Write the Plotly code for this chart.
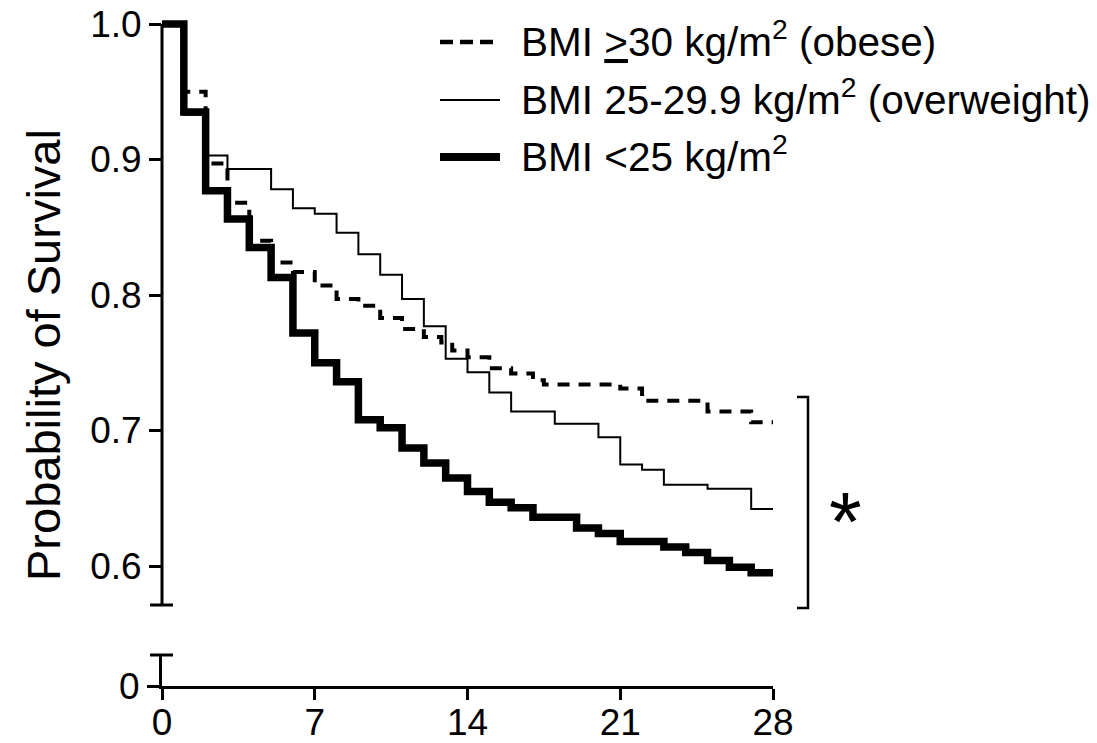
import plotly.graph_objects as go

# ---------------- data ----------------
days_lt25 = [0, 1, 2, 3, 4, 5, 6, 7, 8, 9, 10, 11, 12, 13, 14, 15, 16, 17, 19, 20, 21, 23, 24, 25, 26, 27, 28]
surv_lt25 = [1.0, 0.935, 0.877, 0.856, 0.835, 0.813, 0.772, 0.750, 0.736, 0.708, 0.702, 0.687, 0.676,
             0.665, 0.655, 0.647, 0.643, 0.636, 0.628, 0.624, 0.618, 0.614, 0.610, 0.604, 0.599, 0.595, 0.595]

days_ow = [0, 1, 2, 3, 5, 6, 7, 8, 9, 10, 11, 12, 13, 14, 15, 16, 18, 20, 21, 22, 23, 25, 27, 28]
surv_ow = [1.0, 0.933, 0.903, 0.893, 0.878, 0.864, 0.860, 0.846, 0.830, 0.815, 0.797, 0.777, 0.753,
           0.743, 0.728, 0.714, 0.705, 0.695, 0.675, 0.671, 0.660, 0.657, 0.642, 0.642]

days_ob = [0, 1, 2, 3, 4, 5, 6, 7, 8, 9, 10, 11, 12, 12.8, 13.3, 14, 15, 16, 17, 17.5, 21, 22, 25, 27, 28]
surv_ob = [1.0, 0.950, 0.897, 0.868, 0.840, 0.824, 0.817, 0.807, 0.797, 0.792, 0.783, 0.775, 0.769,
           0.765, 0.759, 0.754, 0.746, 0.742, 0.737, 0.734, 0.731, 0.722, 0.714, 0.706, 0.706]

x_ticks = [0, 7, 14, 21, 28]
y_ticks = [0.6, 0.7, 0.8, 0.9, 1.0]
y_ticks_low = [0]
y_title = "Probability of Survival"
legend_labels = [
    "BMI <u>&gt;</u>30 kg/m<sup>2</sup> (obese)",
    "BMI 25-29.9 kg/m<sup>2</sup> (overweight)",
    "BMI &lt;25 kg/m<sup>2</sup>",
]
significance = "*"

# ---------------- layout geometry (pixels) ----------------
W, H = 1097, 743
L_PX, R_PX = 162, 773          # x = 0 ... 28
TOP_PX, XAX_PX = 20, 686       # plot area top / x-axis line
TOPPANEL_BOT_PX = 605
BOTPANEL_TOP_PX = 655
PW = R_PX - L_PX
PH = XAX_PX - TOP_PX

def px_x(px):
    return (px - L_PX) / PW

def px_y(py):
    return (XAX_PX - py) / PH

PX_PER_UNIT = 1355.0
Y_TOP = 1.0 + (24 - TOP_PX) / PX_PER_UNIT
Y_BOT = 1.0 - (TOPPANEL_BOT_PX - 24) / PX_PER_UNIT

FONT = "Liberation Sans, Arial, sans-serif"
BLACK = "#000000"

fig = go.Figure()

styles = [
    (days_ob, surv_ob, dict(color=BLACK, width=4, dash="12px,9px")),
    (days_ow, surv_ow, dict(color=BLACK, width=2)),
    (days_lt25, surv_lt25, dict(color=BLACK, width=7.5)),
]
for xs, ys, ln in styles:
    fig.add_trace(go.Scatter(x=xs, y=ys, mode="lines", line=dict(shape="hv", **ln),
                             xaxis="x", yaxis="y", showlegend=False, hoverinfo="skip"))

# lower (broken) panel: holds the y = 0 part of the axis
fig.add_trace(go.Scatter(x=[None], y=[None], mode="lines", xaxis="x", yaxis="y2",
                         showlegend=False, hoverinfo="skip"))

shapes = []
# top panel y-axis line and caps
shapes.append(dict(type="line", xref="paper", yref="paper", x0=0, x1=0,
                   y0=px_y(TOPPANEL_BOT_PX), y1=px_y(24), line=dict(color=BLACK, width=3)))
shapes.append(dict(type="line", xref="paper", yref="paper", x0=px_x(150), x1=px_x(173),
                   y0=px_y(TOPPANEL_BOT_PX), y1=px_y(TOPPANEL_BOT_PX), line=dict(color=BLACK, width=3)))
# bottom panel top cap
shapes.append(dict(type="line", xref="paper", yref="paper", x0=px_x(150), x1=px_x(173),
                   y0=px_y(BOTPANEL_TOP_PX), y1=px_y(BOTPANEL_TOP_PX), line=dict(color=BLACK, width=3)))
# significance bracket
bx, bl, bt, bb = 808, 797, 397, 608
shapes.append(dict(type="path", xref="paper", yref="paper",
                   path=f"M {px_x(bl)},{px_y(bt)} L {px_x(bx)},{px_y(bt)} L {px_x(bx)},{px_y(bb)} L {px_x(bl)},{px_y(bb)}",
                   line=dict(color=BLACK, width=2.5)))
# legend samples
leg_y = [42, 100, 157]
shapes.append(dict(type="line", xref="paper", yref="paper", x0=px_x(440), x1=px_x(500),
                   y0=px_y(leg_y[0]), y1=px_y(leg_y[0]), line=dict(color=BLACK, width=4.5, dash="13px,7px")))
shapes.append(dict(type="line", xref="paper", yref="paper", x0=px_x(440), x1=px_x(500),
                   y0=px_y(leg_y[1]), y1=px_y(leg_y[1]), line=dict(color=BLACK, width=2)))
shapes.append(dict(type="line", xref="paper", yref="paper", x0=px_x(440), x1=px_x(500),
                   y0=px_y(leg_y[2]), y1=px_y(leg_y[2]), line=dict(color=BLACK, width=8)))

annotations = []
for lab, yy in zip(legend_labels, leg_y):
    annotations.append(dict(text=lab, xref="paper", yref="paper", x=px_x(519), y=px_y(yy - 3),
                            xanchor="left", yanchor="middle", showarrow=False,
                            font=dict(family=FONT, size=40.5, color=BLACK)))
annotations.append(dict(text=y_title, xref="paper", yref="paper", x=px_x(43), y=px_y(355),
                        xanchor="center", yanchor="middle", textangle=-90, showarrow=False,
                        font=dict(family=FONT, size=47, color=BLACK)))
annotations.append(dict(text=significance, xref="paper", yref="paper", x=px_x(845), y=px_y(522),
                        xanchor="center", yanchor="middle", showarrow=False,
                        font=dict(family=FONT, size=84, color=BLACK)))

axis_common = dict(showgrid=False, zeroline=False, linecolor=BLACK, tickcolor=BLACK, automargin=False,
                   tickfont=dict(family=FONT, size=37, color=BLACK))

fig.update_layout(
    template="none",
    width=W, height=H,
    margin=dict(l=L_PX, r=W - R_PX, t=TOP_PX, b=H - XAX_PX, pad=0, autoexpand=False),
    paper_bgcolor="white", plot_bgcolor="white",
    font=dict(family=FONT, size=37, color=BLACK),
    showlegend=False,
    xaxis=dict(domain=[0, 1], range=[0, 28], anchor="y2", showline=True, linewidth=3,
               ticks="outside", ticklen=11, tickwidth=3, tickvals=x_ticks, ticklabelstandoff=-9,
               ticktext=[str(t) for t in x_ticks], **axis_common),
    yaxis=dict(domain=[px_y(TOPPANEL_BOT_PX), 1], range=[Y_BOT, Y_TOP], anchor="x", showline=False,
               ticks="outside", ticklen=12, tickwidth=3, tickvals=y_ticks,
               ticktext=[f"{v:.1f}" for v in y_ticks], **axis_common),
    yaxis2=dict(domain=[0, px_y(BOTPANEL_TOP_PX)], range=[0, 1], anchor="x", showline=True, linewidth=3,
                ticks="outside", ticklen=12, tickwidth=3, tickvals=y_ticks_low,
                ticktext=[str(v) for v in y_ticks_low], **axis_common),
    shapes=shapes,
    annotations=annotations,
)

fig.write_html("out.html")
